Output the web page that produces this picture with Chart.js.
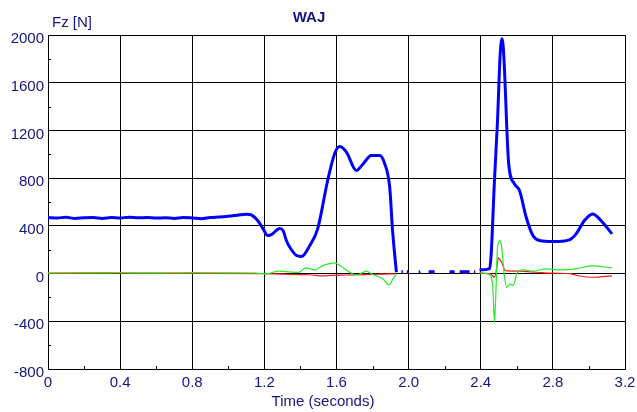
<!DOCTYPE html>
<html>
<head>
<meta charset="utf-8">
<script src="https://cdn.jsdelivr.net/npm/chart.js@4/dist/chart.umd.min.js"></script>
<style>
body{margin:0;background:#fff;}
#wrap{width:637px;height:412px;}
</style>
</head>
<body>
<div id="wrap"><canvas id="fzChart" width="637" height="412"></canvas></div>
<script>
// ---- data (time in s, force in N) ----
const xTicks = [0, 0.4, 0.8, 1.2, 1.6, 2.0, 2.4, 2.8, 3.2];
const yTicks = [-800, -400, 0, 400, 800, 1200, 1600, 2000];

const blueTime = [0, 0.05, 0.1, 0.15, 0.2, 0.25, 0.3, 0.35, 0.4, 0.45, 0.5, 0.55, 0.6, 0.65, 0.7, 0.75, 0.8, 0.85, 0.9, 0.95, 1.0, 1.05, 1.1, 1.13, 1.163, 1.193, 1.219, 1.239, 1.285, 1.304, 1.322, 1.341, 1.378, 1.406, 1.452, 1.496, 1.551, 1.59, 1.618, 1.655, 1.71, 1.745, 1.793, 1.839, 1.867, 1.895, 1.911, 1.932,
  1.94, 1.96, 1.968, 1.98, 1.99, 1.998, 2.01, 2.056, 2.064, 2.08, 2.111, 2.144, 2.17, 2.227, 2.255, 2.27, 2.283, 2.338, 2.35, 2.363, 2.369, 2.38,
  2.393, 2.449, 2.458, 2.476, 2.493, 2.508, 2.519, 2.532, 2.545, 2.555, 2.587, 2.615, 2.652, 2.689, 2.726, 2.8, 2.892, 2.929, 2.975, 3.021, 3.058, 3.128];
const blueForce = [470, 466, 472, 462, 468, 470, 462, 470, 466, 472, 468, 470, 465, 468, 462, 470, 466, 460, 470, 474, 480, 488, 498, 490, 445, 375, 319, 327, 377, 360, 277, 220, 151, 143, 235, 377, 780, 1007, 1065, 1018, 864, 914, 990, 990, 923, 724, 360, 11,
  null, 15, 15, null, 15, 15, null, 15, 15, null, 15, 15, null, 15, 15, null, 15, 15, null, 15, 15, null,
  31, 42, 168, 780, 1283, 1845, 1969, 1703, 1200, 920, 752, 696, 472, 319, 277, 268, 283, 333, 445, 500, 459, 333];

const greenTime = [0, 0.2, 0.4, 0.6, 0.8, 1.0, 1.15, 1.2, 1.22, 1.28, 1.39, 1.43, 1.48, 1.525, 1.59, 1.618, 1.69, 1.717, 1.765, 1.8, 1.858, 1.891, 1.913, 1.932,
  1.95, 2.06, 2.07, 2.08, 2.227, 2.245, 2.26, 2.36, 2.37, 2.38,
  2.393, 2.449, 2.467, 2.476, 2.483, 2.493, 2.506, 2.515, 2.53, 2.543, 2.562, 2.58, 2.6, 2.635, 2.69, 2.763, 2.836, 2.929, 2.966, 3.021, 3.128];
const greenForce = [6, 8, 7, 6, 8, 6, 5, -3, 0, 20, 10, 48, 31, 67, 90, 67, -3, -11, 20, -8, -45, -95, -45, 0,
  null, 8, 8, null, 8, 8, null, 8, 8, null,
  5, -8, -115, -408, -200, 221, 277, 235, -3, -115, -87, -100, 0, 31, 20, 40, 31, 40, 53, 65, 48];

const redTime = [0, 0.4, 0.8, 1.2, 1.3, 1.4, 1.45, 1.53, 1.57, 1.65, 1.75, 1.85, 1.93,
  1.94, 1.99, 2.0, 2.01, 2.12, 2.14, 2.15, 2.3, 2.33, 2.34,
  2.393, 2.449, 2.467, 2.476, 2.49, 2.497, 2.515, 2.537, 2.615, 2.707, 2.8, 2.89, 2.94, 3.021, 3.128];
const redForce = [2, 3, 2, 0, -5, -8, -10, -20, -15, -12, -8, -5, -2,
  null, 6, 6, null, 6, 6, null, 6, 6, null,
  3, 0, -20, -31, 60, 132, 95, 25, 20, 11, 3, 0, -18, -31, -19];

function toPoints(ts, vs){
  return ts.map((t,i)=>({x:t, y:vs[i]}));
}

const navy = "#141482";
const font = {family:"'Liberation Sans', Arial, sans-serif", size:15};

// minor ticks + texts
const extras = {
  id:"extras",
  beforeDatasetsDraw(chart){
    const c = chart.ctx, xs = chart.scales.x, ys = chart.scales.y;
    c.save();
    c.strokeStyle = "#000";
    c.lineWidth = 1;
    c.beginPath();
    for(let i=0;i<xTicks.length-1;i++){
      const px = Math.round(xs.getPixelForValue((xTicks[i]+xTicks[i+1])/2))+0.5;
      c.moveTo(px, ys.bottom); c.lineTo(px, ys.bottom-3);
    }
    for(let i=0;i<yTicks.length-1;i++){
      const py = Math.round(ys.getPixelForValue((yTicks[i]+yTicks[i+1])/2))+0.5;
      c.moveTo(xs.left, py); c.lineTo(xs.left+3, py);
    }
    c.stroke();
    c.restore();
  },
  afterDraw(chart){
    const c = chart.ctx;
    c.save();
    c.fillStyle = navy;
    c.textBaseline = "alphabetic";
    c.font = "15px 'Liberation Sans', Arial, sans-serif";
    c.textAlign = "left";
    c.fillText("Fz [N]", 52, 27);
    c.textAlign = "center";
    c.fillText("Time (seconds)", 323, 406);
    c.font = "bold 15px 'Liberation Sans', Arial, sans-serif";
    c.fillText("WAJ", 309, 22);
    c.restore();
  }
};

new Chart(document.getElementById("fzChart"),{
  type:"line",
  data:{
    datasets:[
      {data:toPoints(blueTime, blueForce), borderColor:"#0000ff", borderWidth:3},
      {data:toPoints(greenTime, greenForce), borderColor:"#22ee22", borderWidth:1.2},
      {data:toPoints(redTime, redForce), borderColor:"#ff1a1a", borderWidth:1.2}
    ]
  },
  options:{
    responsive:false,
    animation:false,
    spanGaps:false,
    elements:{
      point:{radius:0},
      line:{cubicInterpolationMode:"monotone", borderJoinStyle:"round"}
    },
    layout:{padding:{top:35, right:12, left:0, bottom:0}},
    plugins:{legend:{display:false}, tooltip:{enabled:false}, title:{display:false}},
    scales:{
      x:{
        type:"linear", min:0, max:3.2,
        afterBuildTicks(s){ s.ticks = xTicks.map(v=>({value:v})); },
        afterFit(s){ s.height = 43; s.paddingLeft = 0; s.paddingRight = 0; },
        grid:{color:"#000", lineWidth:1, drawTicks:false},
        border:{color:"#000"},
        ticks:{color:navy, font:font, padding:5, maxRotation:0,
          callback:v=> v===0 ? "0" : Number(v).toFixed(1)}
      },
      y:{
        min:-800, max:2000,
        afterBuildTicks(s){ s.ticks = yTicks.map(v=>({value:v})); },
        afterFit(s){ s.width = 48; s.paddingTop = 0; s.paddingBottom = 0; },
        grid:{color:"#000", lineWidth:1, drawTicks:false},
        border:{color:"#000"},
        ticks:{color:navy, font:font, padding:4, labelOffset:4,
          callback:v=> String(v)}
      }
    }
  },
  plugins:[extras]
});
</script>
</body>
</html>
